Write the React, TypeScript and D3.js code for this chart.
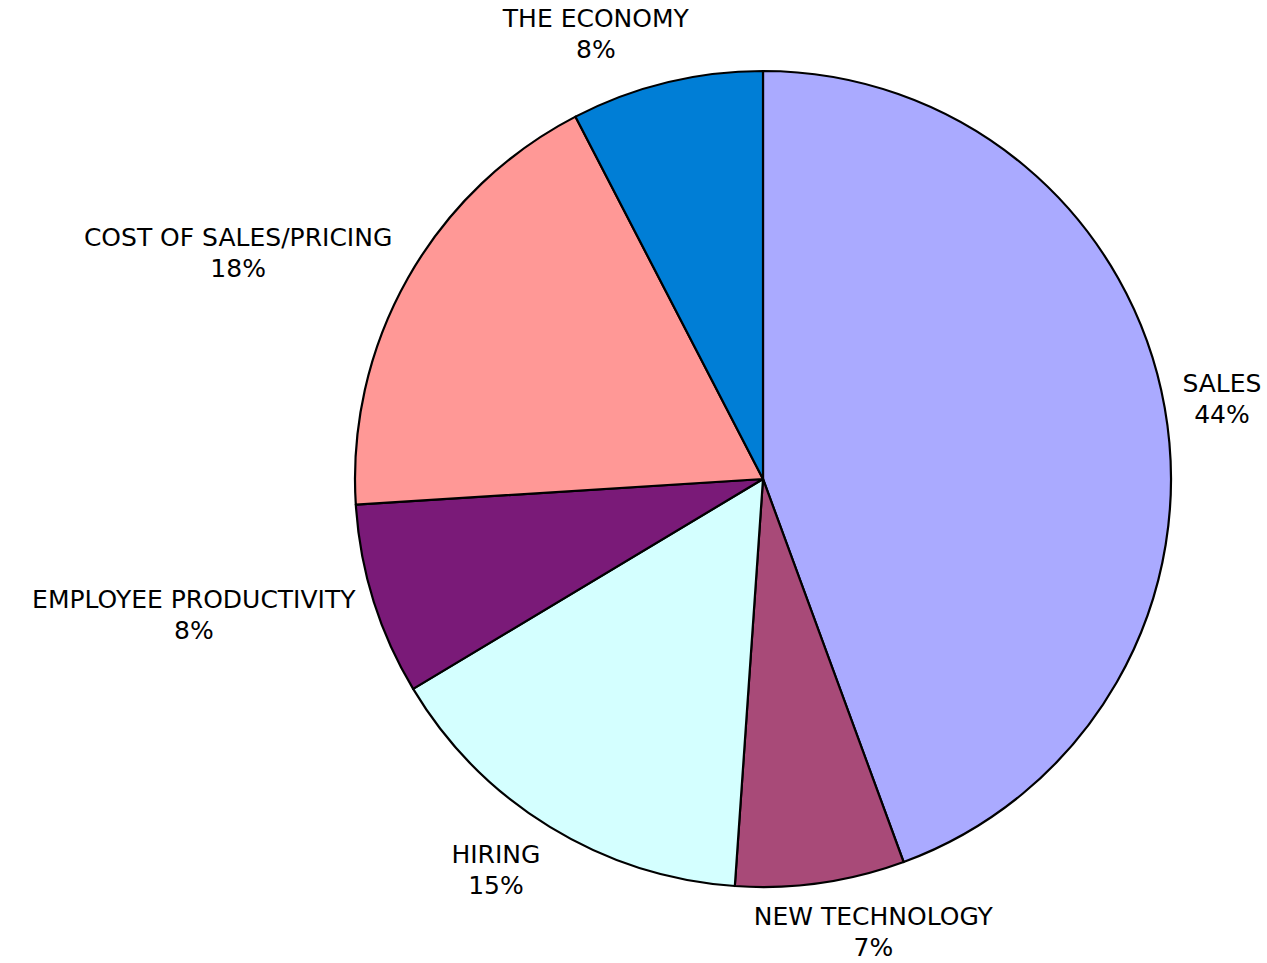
import React, { useEffect, useRef } from "react"
import * as d3 from "d3"

const categories = ["SALES", "NEW TECHNOLOGY", "HIRING", "EMPLOYEE PRODUCTIVITY", "COST OF SALES/PRICING", "THE ECONOMY"]
const shares = [44.4, 6.7, 15.3, 7.6, 18.4, 7.6]
const colors = ["#AAAAFF", "#A84A78", "#D4FFFF", "#7A1A78", "#FF9896", "#007ED6"]

export default function App() {
  const ref = useRef<SVGSVGElement>(null)

  useEffect(() => {
    document.body.style.margin = "0"
    const cx = 763, cy = 479, radius = 408
    const svg = d3.select(ref.current)
    svg.selectAll("*").remove()

    const data = categories.map((c, i) => ({ name: c, value: shares[i], color: colors[i] }))
    const total = d3.sum(shares)
    const pie = d3.pie<any>().sort(null).value(d => d.value)
    const arcs = pie(data)
    const arc = d3.arc<any>().innerRadius(0).outerRadius(radius)

    const g = svg.append("g").attr("transform", `translate(${cx},${cy})`)

    g.selectAll("path.slice")
      .data(arcs)
      .join("path")
      .attr("class", "slice")
      .attr("d", arc)
      .attr("fill", d => d.data.color)
      .attr("stroke", "#000")
      .attr("stroke-width", 2.2)
      .attr("stroke-linejoin", "round")

    // labels outside the pie, placed along each slice's mid angle
    const labels = g.selectAll("g.label")
      .data(arcs)
      .join("g")
      .attr("class", "label")

    const text = labels.append("text")
      .attr("text-anchor", "middle")
      .attr("font-family", "'DejaVu Sans', Verdana, sans-serif")
      .attr("font-size", 25)
      .attr("fill", "#000")
    text.append("tspan").attr("x", 0).attr("y", 0).text(d => d.data.name)
    text.append("tspan").attr("x", 0).attr("dy", "1.24em")
      .text(d => Math.round(d.data.value / total * 100) + "%")

    labels.each(function (d) {
      const node = this as SVGGElement
      const b = node.getBBox()
      const mid = (d.startAngle + d.endAngle) / 2
      const rx = radius + 18
      const ry = radius + 50
      const px = rx * Math.sin(mid) + b.width / 2 * Math.max(-1, Math.min(1, 3 * Math.sin(mid)))
      const py = -ry * Math.cos(mid)
      const tx = px - (b.x + b.width / 2)
      const ty = py - (b.y + b.height / 2)
      d3.select(node).attr("transform", `translate(${tx},${ty})`)
    })
  }, [])

  return <svg ref={ref} width={1267} height={963} style={{ display: "block" }} />
}
